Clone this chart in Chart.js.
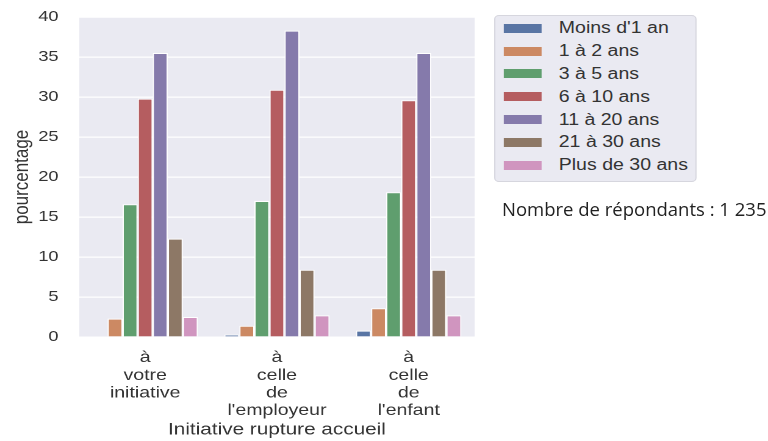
<!DOCTYPE html>
<html>
<head>
<meta charset="utf-8">
<script src="https://cdn.jsdelivr.net/npm/chart.js@4"></script>
<style>
  body { margin: 0; background: #fff; width: 768px; height: 441px; position: relative; overflow: hidden; }
  /* the source figure is stretched sideways, so the whole matplotlib-like part is scaled in x */
  #stage { position: absolute; left: 0; top: 0; width: 630px; height: 441px; transform: scaleX(1.22); transform-origin: 0 0; }
  #wrap { position: absolute; left: 0; top: 0; width: 392px; height: 441px; }
  #legend { position: absolute; left: 405px; top: 15px; width: 166px; height: 167px; box-sizing: border-box;
    background: #eaeaf2; border: 1px solid #d6d6de; border-radius: 4px; padding-top: 1px;
    font: 16px "Liberation Sans", Arial, sans-serif; color: #333; }
  .row { height: 22.8px; display: flex; align-items: center; }
  .sw { width: 31px; height: 9px; margin-left: 7px; margin-right: 14px; }
  #note { position: absolute; left: 502px; top: 198px; font: 18.5px "Open Sans", sans-serif; line-height: 22px; color: #222; }
</style>
</head>
<body>
<div id="stage">
  <div id="wrap"><canvas id="chart"></canvas></div>
  <div id="legend"></div>
</div>
<div id="note">Nombre de répondants : 1 235</div>
<script>
const categories = [['à', 'votre', 'initiative'], ['à', 'celle', 'de', "l'employeur"], ['à', 'celle', 'de', "l'enfant"]];
const seriesNames = ["Moins d'1 an", '1 à 2 ans', '3 à 5 ans', '6 à 10 ans', '11 à 20 ans', '21 à 30 ans', 'Plus de 30 ans'];
const moins1 = [0, 0.3, 0.8];
const ans1a2 = [2.3, 1.4, 3.6];
const ans3a5 = [16.6, 17.0, 18.1];
const ans6a10 = [29.8, 30.9, 29.6];
const ans11a20 = [35.5, 38.3, 35.5];
const ans21a30 = [12.3, 8.4, 8.4];
const plus30 = [2.5, 2.7, 2.7];
const yTicks = [0, 5, 10, 15, 20, 25, 30, 35, 40];
const colors = ['#5975a4', '#cc8963', '#5f9e6e', '#b55d60', '#857aab', '#8d7866', '#d095bf'];

const values = [moins1, ans1a2, ans3a5, ans6a10, ans11a20, ans21a30, plus30];

const plotBg = {
  id: 'plotBg',
  beforeDraw(chart) {
    const a = chart.chartArea, c = chart.ctx;
    c.save();
    c.fillStyle = '#eaeaf2';
    c.fillRect(a.left, a.top, a.right - a.left, a.bottom - a.top);
    c.restore();
  }
};

const fam = 'Liberation Sans, Arial, sans-serif';

new Chart(document.getElementById('chart'), {
  type: 'bar',
  data: {
    labels: categories,
    datasets: seriesNames.map((name, i) => ({
      label: name,
      data: values[i],
      backgroundColor: colors[i],
      borderColor: '#ffffff',
      borderWidth: 1,
      categoryPercentage: 0.8,
      barPercentage: 1.0
    }))
  },
  options: {
    responsive: true,
    maintainAspectRatio: false,
    animation: false,
    devicePixelRatio: 2,
    layout: { padding: { left: 0, right: 3, top: 17, bottom: 0 } },
    plugins: { legend: { display: false }, tooltip: { enabled: false } },
    scales: {
      x: {
        grid: { display: false, drawTicks: false },
        border: { display: false },
        ticks: { color: '#333', font: { family: fam, size: 16, lineHeight: 1.1 }, padding: 12, maxRotation: 0 },
        title: { display: true, text: 'Initiative rupture accueil', color: '#333', font: { family: fam, size: 17 }, padding: { top: 0, bottom: 1 } },
        afterFit(s) { s.height = 104; }
      },
      y: {
        min: yTicks[0], max: yTicks[yTicks.length - 1],
        afterBuildTicks(s) { s.ticks = yTicks.map(v => ({ value: v })); },
        grid: { color: '#ffffff', lineWidth: 1.2, drawTicks: false },
        border: { display: false },
        ticks: { color: '#333', font: { family: fam, size: 15 }, padding: 17 },
        title: { display: true, text: 'pourcentage', color: '#333', font: { family: fam, size: 17 }, padding: { top: 8, bottom: 0 } },
        afterFit(s) { s.width = 65; s.paddingTop = 0; s.paddingBottom = 0; }
      }
    }
  },
  plugins: [plotBg]
});

const legend = document.getElementById('legend');
seriesNames.forEach((name, i) => {
  const row = document.createElement('div');
  row.className = 'row';
  row.innerHTML = '<span class="sw" style="background:' + colors[i] + '"></span><span>' + name + '</span>';
  legend.appendChild(row);
});
</script>
</body>
</html>
